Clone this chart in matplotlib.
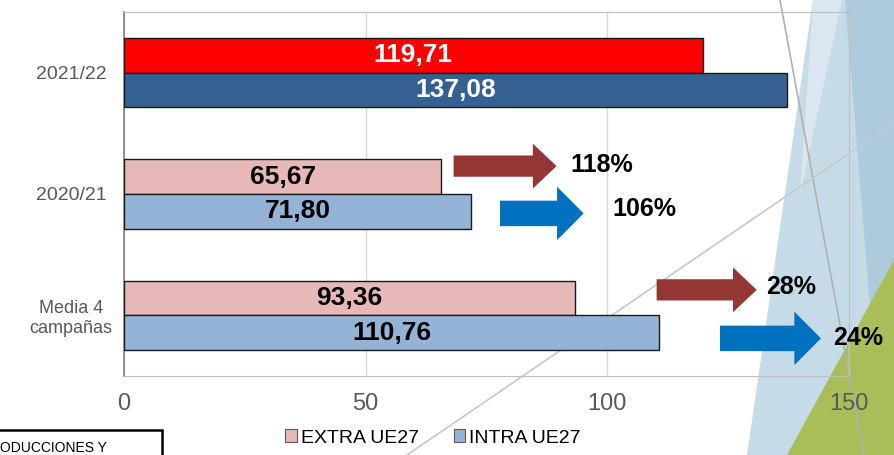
import matplotlib
matplotlib.use("Agg")
import matplotlib.pyplot as plt
from matplotlib.patches import Polygon, FancyArrow, Rectangle

plt.rcParams['font.family'] = ['Liberation Sans', 'DejaVu Sans']

# data
categories = ["Media 4\ncampañas", "2020/21", "2021/22"]
extra = [93.36, 65.67, 119.71]
intra = [110.76, 71.80, 137.08]
extra_lbl = ["93,36", "65,67", "119,71"]
intra_lbl = ["110,76", "71,80", "137,08"]
pct_extra = ["28%", "118%"]
pct_intra = ["24%", "106%"]

W, H = 895, 455
fig = plt.figure(figsize=(W / 100, H / 100), dpi=100)

# slide background (pixel coords, y down)
bg = fig.add_axes([0, 0, 1, 1], zorder=0)
bg.set_xlim(0, W)
bg.set_ylim(H, 0)
bg.axis("off")
bg.add_patch(Polygon([(813, 0), (895, 0), (895, 455), (747, 455)], facecolor="#C6DBE8", edgecolor="none"))
bg.add_patch(Polygon([(813, 0), (842, 0), (800, 195)], facecolor="#DBE7F0", edgecolor="none"))
bg.add_patch(Polygon([(845, 0), (895, 0), (895, 455), (882, 455)], facecolor="#AECBDD", edgecolor="none"))
bg.add_patch(Polygon([(895, 258), (895, 455), (787, 455)], facecolor="#A9BE58", edgecolor="none"))
bg.plot([780, 864], [0, 455], color="#B0B0B0", lw=1.2)
bg.plot([407, 895], [455, 122], color="#C8C8C8", lw=1.2)
bg.add_patch(Rectangle((-5, 430), 167, 40, facecolor="none", edgecolor="black", lw=1.8))
bg.text(0, 448, "ODUCCIONES Y", fontsize=10, color="black", va="center", ha="left")

ax = fig.add_axes([124 / W, 1 - 376 / H, (849 - 124) / W, (376 - 12) / H], zorder=1)
ax.patch.set_visible(False)

y = list(range(len(categories)))
h = 0.285
b1 = ax.barh([v + h / 2 for v in y], extra, height=h, color="#E6B9B8", edgecolor="#1a1a1a", lw=1, zorder=3)
b2 = ax.barh([v - h / 2 for v in y], intra, height=h, color="#95B3D7", edgecolor="#1a1a1a", lw=1, zorder=3)
b1[2].set_facecolor("#FF0000")
b2[2].set_facecolor("#366092")

for i in y:
    col = "white" if i == 2 else "black"
    ax.text(extra[i] / 2, i + h / 2, extra_lbl[i], ha="center", va="center", fontsize=19,
            fontweight="bold", color=col, zorder=5)
    ax.text(intra[i] / 2, i - h / 2, intra_lbl[i], ha="center", va="center", fontsize=19,
            fontweight="bold", color=col, zorder=5)

# growth arrows
red_arrows = [(110.2, 130.9, 0.21), (68.2, 89.5, 1.23)]
blue_arrows = [(123.3, 144.2, -0.19), (77.8, 95.1, 0.84)]
for x0, x1, yy in red_arrows:
    ax.add_patch(FancyArrow(x0, yy, x1 - x0, 0, width=0.175, head_width=0.37, head_length=4.9,
                            length_includes_head=True, color="#943634", lw=0, zorder=4, clip_on=False))
for x0, x1, yy in blue_arrows:
    ax.add_patch(FancyArrow(x0, yy, x1 - x0, 0, width=0.21, head_width=0.44, head_length=5.5,
                            length_includes_head=True, color="#0070C0", lw=0, zorder=4, clip_on=False))

pct_pos_extra = [(132.8, 0.23), (92.4, 1.24)]
pct_pos_intra = [(146.7, -0.19), (101.1, 0.88)]
for (px, py), t in zip(pct_pos_extra, pct_extra):
    ax.text(px, py, t, ha="left", va="center", fontsize=18, fontweight="bold", color="black", zorder=5)
for (px, py), t in zip(pct_pos_intra, pct_intra):
    ax.text(px, py, t, ha="left", va="center", fontsize=18, fontweight="bold", color="black", zorder=5)

ax.set_xlim(0, 150)
ax.set_ylim(-0.5, 2.5)
ax.set_xticks([0, 50, 100, 150])
ax.set_yticks(y)
ax.set_yticklabels(categories, fontsize=14, color="#595959", ha="center")
ax.get_yticklabels()[0].set_fontsize(13)
ax.tick_params(axis="y", length=0, pad=38)
ax.tick_params(axis="x", length=0, pad=12, labelsize=17, labelcolor="#595959")
ax.xaxis.grid(True, color="#D9D9D9", lw=1, zorder=0)
ax.set_axisbelow(True)
for s in ["top", "right", "bottom"]:
    ax.spines[s].set_color("#BFBFBF")
ax.spines["left"].set_color("#808080")
ax.spines["left"].set_linewidth(1.2)

handles = [Rectangle((0, 0), 1, 1, facecolor="#E6B9B8", edgecolor="#595959", lw=0.8),
           Rectangle((0, 0), 1, 1, facecolor="#95B3D7", edgecolor="#595959", lw=0.8)]
fig.legend(handles, ["EXTRA UE27", "INTRA UE27"], loc="center", bbox_to_anchor=(433 / W, 1 - 438 / H),
           ncol=2, frameon=False, fontsize=14, handlelength=0.6, handleheight=0.6,
           handletextpad=0.2, columnspacing=1.8)

fig.savefig("out.png", dpi=100)
